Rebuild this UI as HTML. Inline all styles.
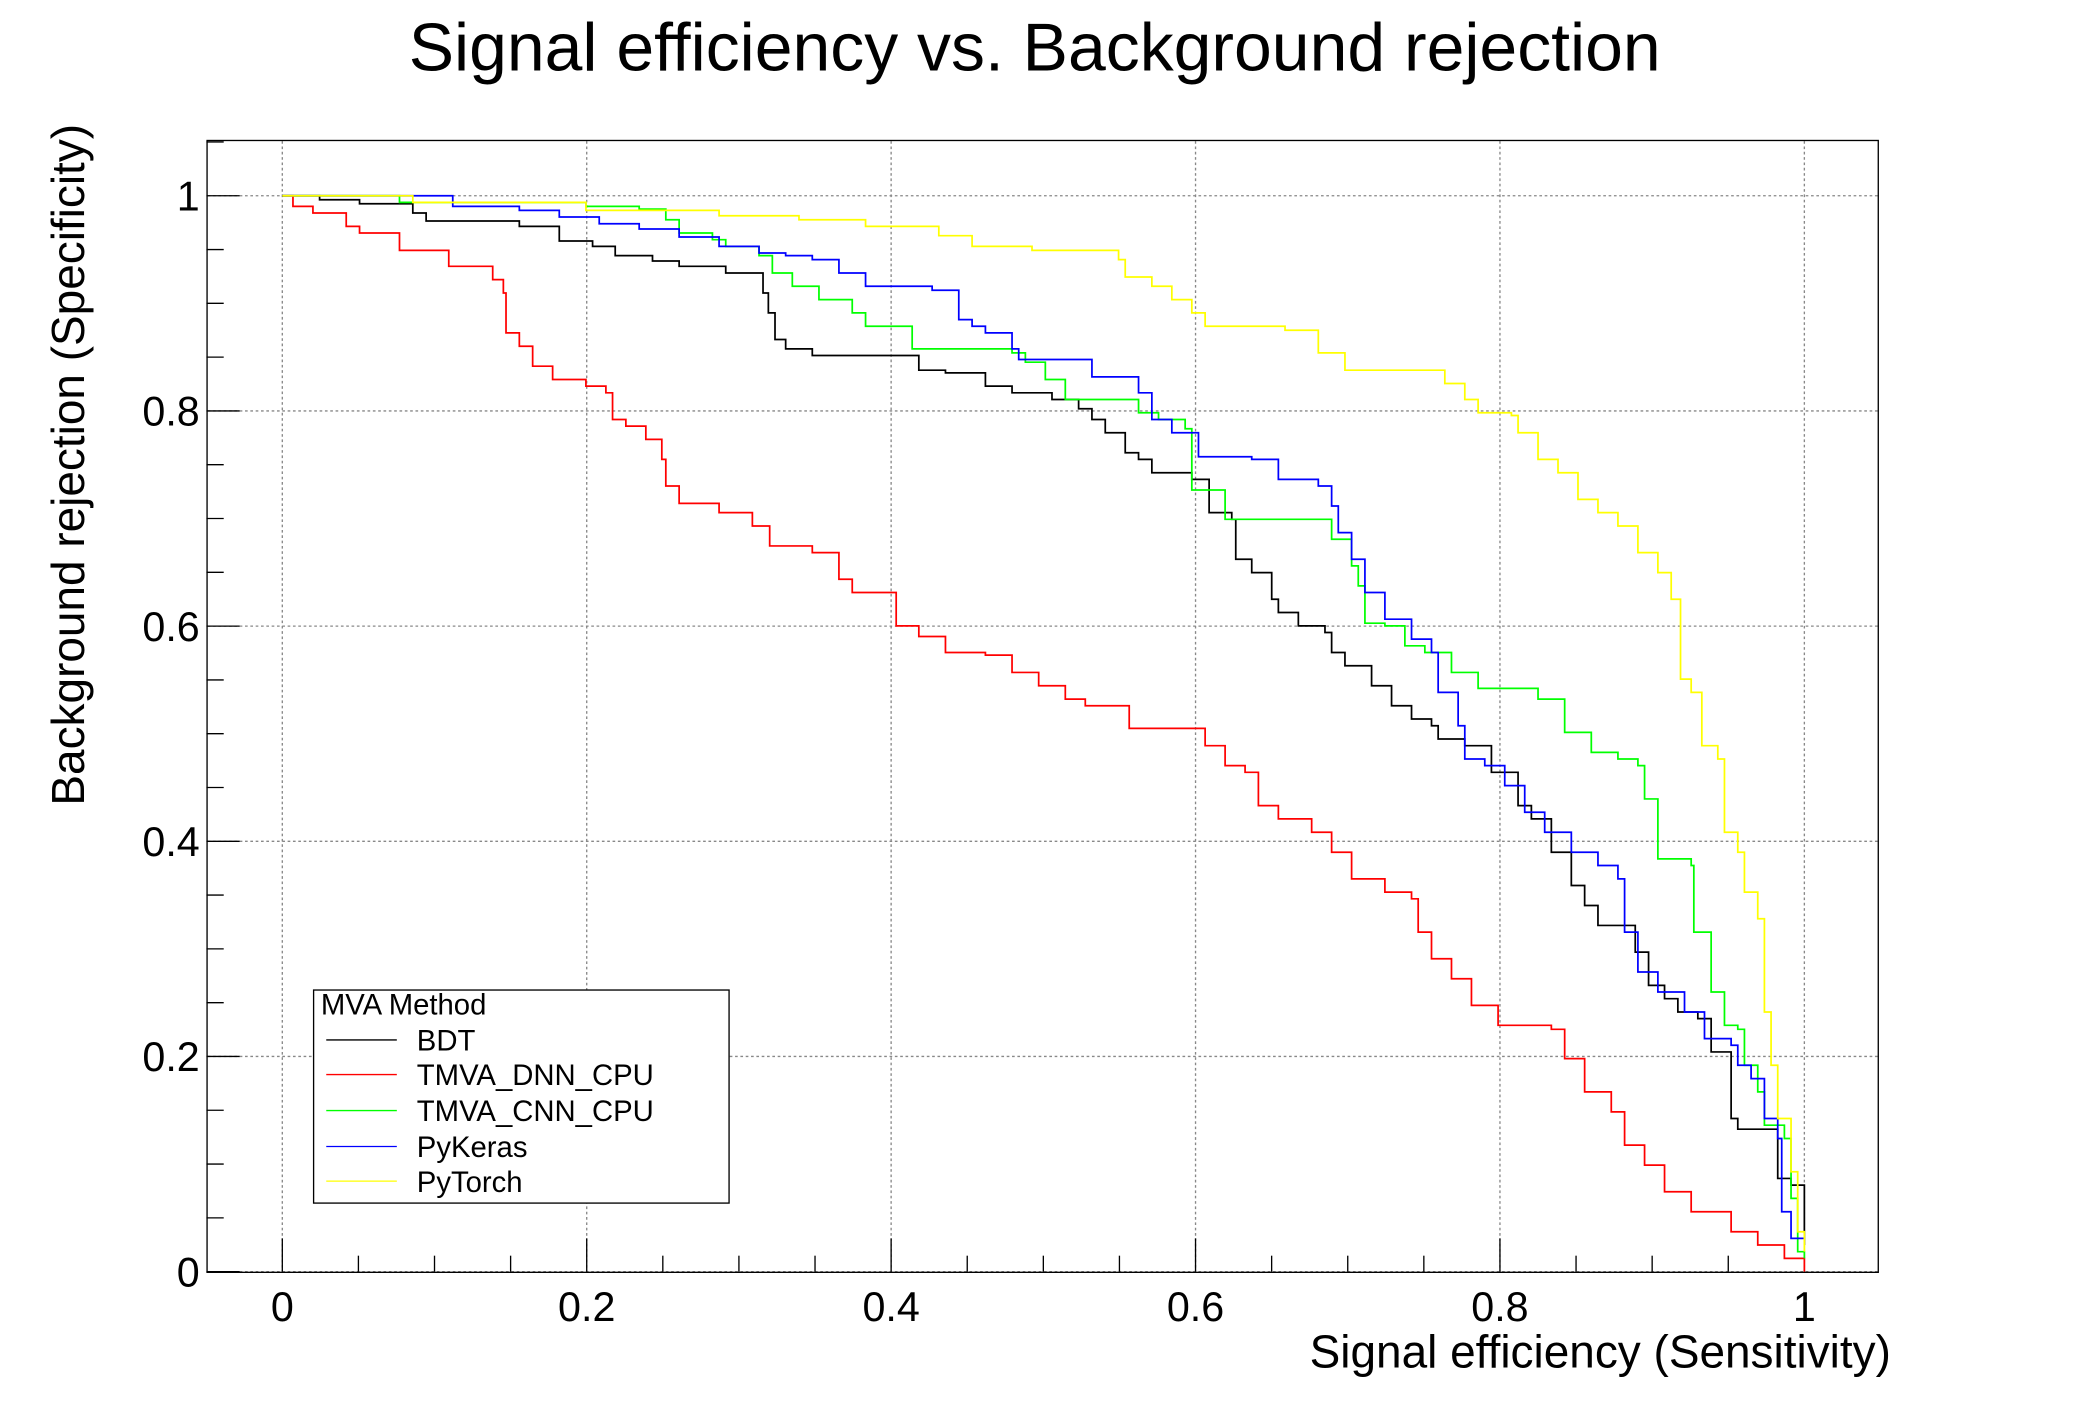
<!DOCTYPE html>
<html><head><meta charset="utf-8"><style>html,body{margin:0;padding:0;background:#fff;}svg{display:block}</style></head>
<body>
<svg id="s" width="2088" height="1416" viewBox="0 0 1568 1063.4" preserveAspectRatio="none" xmlns="http://www.w3.org/2000/svg" font-family="Liberation Sans, Arial, sans-serif">
<rect width="1568" height="1064" fill="#fff"/>
<text x="777" y="53" font-size="51" text-anchor="middle">Signal efficiency vs. Background rejection</text>
<g id="grid" stroke="#888" stroke-width="1" stroke-dasharray="2,2"></g>
<g id="ticks" stroke="#000" stroke-width="1"></g>
<g id="labels" font-size="31"></g>
<rect x="155.5" y="105.5" width="1255" height="850" fill="none" stroke="#000" stroke-width="1"/>
<text x="1420" y="1027" font-size="34.5" text-anchor="end">Signal efficiency (Sensitivity)</text>
<text transform="translate(63,605) rotate(-90)" font-size="34.5" text-anchor="start">Background rejection (Specificity)</text>
<g id="curves" fill="none" stroke-width="1.3"></g>
<rect x="235.5" y="743.5" width="312" height="160" fill="#fff" stroke="#000"/>
<g font-size="22">
<text x="241" y="762">MVA Method</text>
<line x1="245" y1="781" x2="298" y2="781" stroke="#000"/><text x="313" y="789">BDT</text>
<line x1="245" y1="807" x2="298" y2="807" stroke="#f00"/><text x="313" y="815">TMVA_DNN_CPU</text>
<line x1="245" y1="834" x2="298" y2="834" stroke="#0f0"/><text x="313" y="842">TMVA_CNN_CPU</text>
<line x1="245" y1="861" x2="298" y2="861" stroke="#00f"/><text x="313" y="869">PyKeras</text>
<line x1="245" y1="887" x2="298" y2="887" stroke="#ff0"/><text x="313" y="895">PyTorch</text>
</g>
</svg>
<script>
var NS="http://www.w3.org/2000/svg";
function el(p,t,a,txt){var e=document.createElementNS(NS,t);for(var k in a)e.setAttribute(k,a[k]);if(txt!==undefined)e.textContent=txt;document.getElementById(p).appendChild(e);}
var X=function(v){return 212+1143*v},Y=function(v){return 955-808*v};
for(var i=0;i<=5;i++){var v=i*0.2;
 el("grid","line",{x1:X(v),y1:106,x2:X(v),y2:955});
 el("grid","line",{x1:156,y1:Y(v),x2:1410,y2:Y(v)});
 el("labels","text",{x:X(v),y:992,"text-anchor":"middle"},i==0?"0":i==5?"1":v.toFixed(1));
 el("labels","text",{x:150,y:Y(v)+11,"text-anchor":"end"},i==0?"0":i==5?"1":v.toFixed(1));}
for(var i=-1;i<=24;i++){var v=i*0.05;var xx=X(v);var maj=(i%4==0);
 if(xx>155&&xx<1410)el("ticks","line",{x1:xx,y1:955,x2:xx,y2:maj?930:943});
 var yy=Y(v);if(yy>105&&yy<=955)el("ticks","line",{x1:155,y1:yy,x2:maj?180:168,y2:yy});}
var C={
"#000":"212,147 230,147 240,150 270,150 270,153 300,153 310,160 320,166 380,166 390,170 420,176 420,181 440,181 445,185 460,185 462,192 480,192 490,196 510,200 540,200 545,205 570,205 573,220 577,235 582,255 590,262 610,267 680,267 690,278 710,280 740,290 760,295 790,300 810,307 820,315 830,325 845,340 855,345 860,345 865,355 895,355 895,360 905,360 908,385 925,390 928,420 940,430 955,450 960,460 975,470 995,475 1000,490 1010,500 1030,515 1045,530 1060,540 1075,545 1080,555 1100,560 1120,580 1140,605 1150,615 1165,640 1180,665 1190,680 1200,695 1215,695 1228,715 1238,740 1250,750 1260,760 1275,765 1285,790 1300,840 1305,848 1325,848 1335,860 1335,885 1345,890 1355,905 1355,935",
"#f00":"212,147 220,155 235,160 260,170 270,175 300,180 300,188 335,188 337,200 360,200 370,210 378,220 380,250 390,260 400,275 415,285 440,290 455,295 460,315 470,320 485,330 497,345 500,365 510,378 540,385 565,395 578,410 610,415 630,435 640,445 670,445 673,470 690,478 710,490 740,492 760,505 780,515 800,525 815,530 845,530 848,547 897,547 905,560 920,575 935,580 945,605 960,615 985,625 1000,640 1015,660 1040,670 1060,675 1065,700 1075,720 1090,735 1105,755 1125,770 1165,773 1175,795 1190,820 1210,835 1220,860 1235,875 1250,895 1270,910 1300,925 1320,935 1340,945 1355,955",
"#0f0":"212,147 280,147 300,152 420,152 440,155 480,157 500,165 510,175 535,180 545,185 570,192 580,205 595,215 615,225 640,235 650,245 685,245 685,262 760,265 770,272 785,285 800,300 850,300 855,310 870,315 890,322 895,368 915,368 920,390 985,390 1000,405 1015,425 1020,440 1025,468 1040,470 1055,485 1070,490 1090,505 1110,517 1150,517 1155,525 1170,525 1175,550 1195,565 1215,570 1230,575 1235,600 1245,605 1245,645 1270,650 1272,700 1285,745 1295,770 1305,773 1310,800 1320,820 1325,845 1340,855 1345,900 1350,940 1355,945",
"#00f":"212,147 335,147 340,155 390,158 420,163 450,168 480,172 510,178 540,185 570,190 590,192 610,195 630,205 650,215 700,218 720,240 730,245 740,250 760,262 765,270 815,270 820,283 850,283 855,295 865,315 880,325 900,343 940,345 960,360 990,365 1000,380 1005,400 1015,420 1025,445 1040,465 1060,480 1075,490 1080,520 1095,545 1100,570 1115,575 1130,590 1145,610 1160,625 1180,640 1200,650 1215,660 1220,700 1230,730 1245,745 1265,760 1280,780 1300,785 1305,800 1315,810 1325,840 1335,855 1338,910 1345,930 1355,930",
"#ff0":"212,147 300,147 310,152 420,152 440,158 540,162 600,165 650,170 700,170 705,177 730,185 775,188 840,195 845,208 865,215 880,225 895,235 905,245 965,248 990,265 1010,278 1070,278 1085,288 1100,300 1110,310 1135,312 1140,325 1155,345 1170,355 1185,375 1200,385 1215,395 1230,415 1245,430 1255,450 1262,510 1270,520 1278,560 1290,570 1295,625 1305,640 1310,670 1320,690 1325,760 1330,800 1335,840 1345,880 1350,925 1355,940"};
for(var c in C){var p=C[c].split(" ").map(function(s){return s.split(",").map(Number)});var out=[p[0].join(",")];
 for(var i=1;i<p.length;i++){out.push(p[i][0]+","+p[i-1][1]);out.push(p[i].join(","));}
 el("curves","polyline",{points:out.join(" "),stroke:c});}
</script>
</body></html>
